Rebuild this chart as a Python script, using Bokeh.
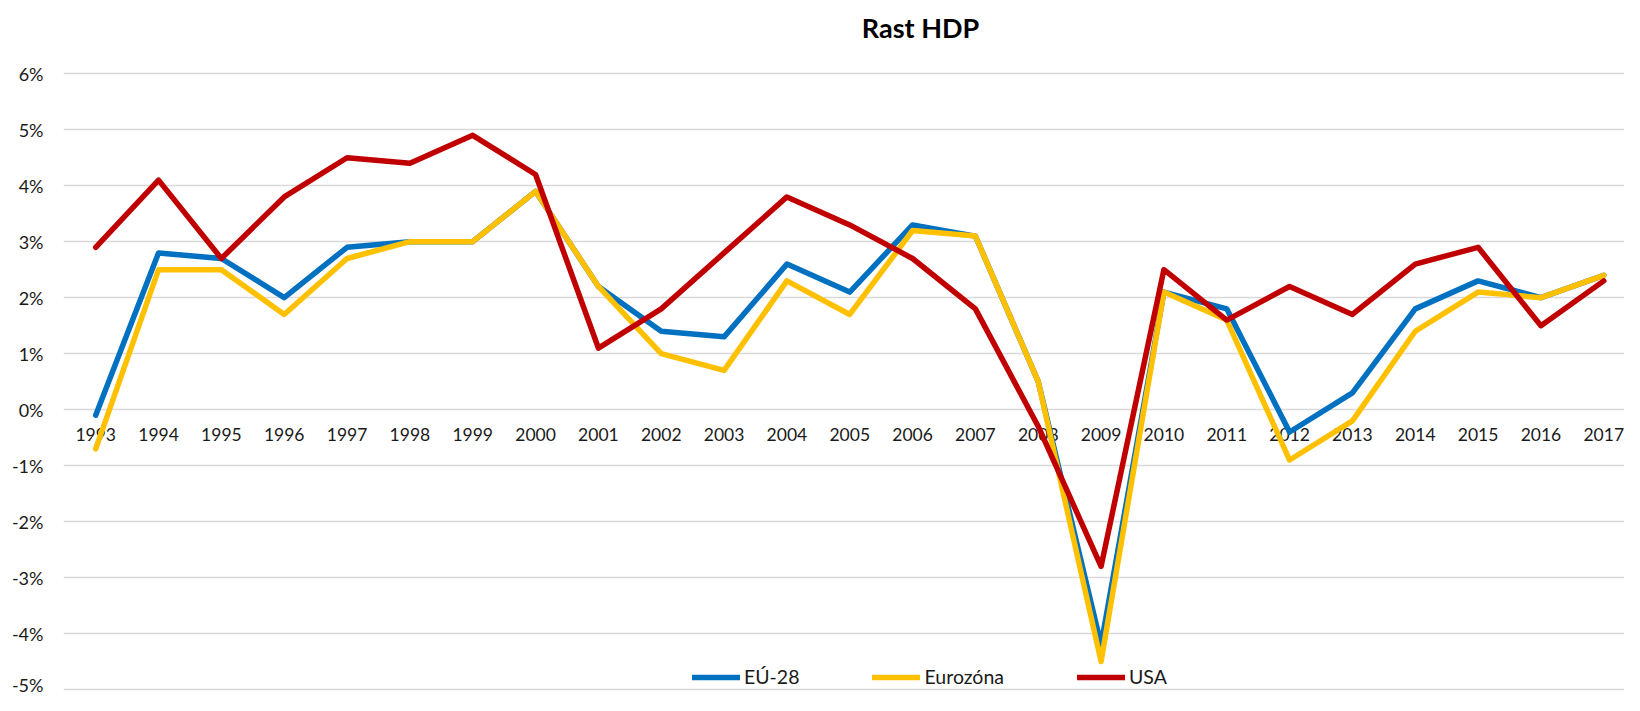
from bokeh.plotting import figure
from bokeh.models import (ColumnDataSource, Range1d, FixedTicker, PrintfTickFormatter,
                          Legend, LegendItem, Label)
from bokeh.core.properties import value
from bokeh.embed import file_html
from bokeh.resources import INLINE

years = list(range(1993, 2018))
year_labels = [str(y) for y in years]
eu28 = [-0.1, 2.8, 2.7, 2.0, 2.9, 3.0, 3.0, 3.9, 2.2, 1.4, 1.3, 2.6, 2.1, 3.3, 3.1,
        0.5, -4.2, 2.1, 1.8, -0.4, 0.3, 1.8, 2.3, 2.0, 2.4]
eurozone = [-0.7, 2.5, 2.5, 1.7, 2.7, 3.0, 3.0, 3.9, 2.2, 1.0, 0.7, 2.3, 1.7, 3.2, 3.1,
            0.5, -4.5, 2.1, 1.6, -0.9, -0.2, 1.4, 2.1, 2.0, 2.4]
usa = [2.9, 4.1, 2.7, 3.8, 4.5, 4.4, 4.9, 4.2, 1.1, 1.8, 2.8, 3.8, 3.3, 2.7, 1.8,
       -0.3, -2.8, 2.5, 1.6, 2.2, 1.7, 2.6, 2.9, 1.5, 2.3]
series_names = ["EÚ-28", "Eurozóna", "USA"]
series_colors = ["#0070C0", "#FFC000", "#C00000"]
y_ticks = list(range(-5, 7))

FONT = "Lato"

src = ColumnDataSource(dict(x=years, eu=eu28, ez=eurozone, us=usa,
                            lbl=year_labels, zero=[0] * len(years)))

p = figure(width=1624, height=695, output_backend="svg", toolbar_location=None,
           x_range=Range1d(1992.4875, 2017.33), y_range=Range1d(-5.107, 7.309),
           min_border_top=0, min_border_bottom=0, min_border_left=63,
           min_border_right=0)
p.outline_line_color = None
p.background_fill_color = "white"
p.border_fill_color = "white"

p.xaxis.visible = False
p.xgrid.visible = False

p.yaxis.ticker = FixedTicker(ticks=y_ticks)
p.yaxis.formatter = PrintfTickFormatter(format="%d%%")
p.yaxis.axis_line_color = None
p.yaxis.major_tick_line_color = None
p.yaxis.minor_tick_line_color = None
p.yaxis.major_tick_out = 0
p.yaxis.major_tick_in = 0
p.yaxis.major_label_standoff = 20
p.yaxis.major_label_text_font = FONT
p.yaxis.major_label_text_font_size = "18px"
p.yaxis.major_label_text_color = "#1a1a1a"

p.ygrid.ticker = FixedTicker(ticks=y_ticks)
p.ygrid.grid_line_color = "#D9D9D9"
p.ygrid.grid_line_width = 1.5

# category labels next to the 0 line
p.text(x="x", y="zero", text="lbl", source=src, text_align="center",
       text_baseline="middle", y_offset=25, text_font=value(FONT),
       text_font_size="17.5px", text_color="#1a1a1a")

renderers = []
for col, name, color in zip(["eu", "ez", "us"], series_names, series_colors):
    r = p.line(x="x", y=col, source=src, line_color=color, line_width=5.5,
               line_join="round", line_cap="round")
    renderers.append(r)

legend = Legend(items=[LegendItem(label=n, renderers=[r]) for n, r in zip(series_names, renderers)],
                orientation="horizontal", location=(629, 7),
                glyph_width=48, glyph_height=20, label_standoff=4, spacing=73,
                padding=0, margin=0, border_line_color=None, background_fill_alpha=0,
                label_text_font=FONT, label_text_font_size="19.5px",
                label_text_color="#1a1a1a")
p.add_layout(legend, "center")

title = Label(x=857, y=668, x_units="screen", y_units="screen", text="Rast HDP",
              text_align="center", text_baseline="middle", text_font=FONT,
              text_font_size="27px", text_font_style="bold", text_color="black")
p.add_layout(title)

open("out.html", "w").write(file_html(p, INLINE))
